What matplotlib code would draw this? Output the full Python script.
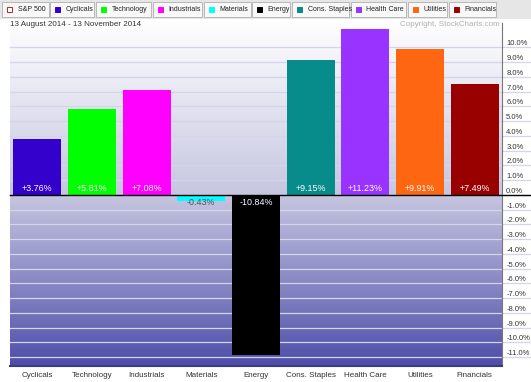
import numpy as np
import matplotlib.pyplot as plt
from matplotlib.colors import LinearSegmentedColormap
from matplotlib.patches import Rectangle

plt.rcParams['font.family'] = ['Liberation Sans', 'DejaVu Sans']

# data
sectors = ['Cyclicals', 'Technology', 'Industrials', 'Materials', 'Energy',
           'Cons. Staples', 'Health Care', 'Utilities', 'Financials']
changes = [3.76, 5.81, 7.08, -0.43, -10.84, 9.15, 11.23, 9.91, 7.49]
colors = ['#3300cc', '#00ff00', '#ff00ff', '#00ffff', '#000000',
          '#078b8b', '#9933ff', '#ff6611', '#990000']
yticks = list(range(-11, 11))
date_range = '13 August 2014 - 13 November 2014'

# legend box edges in the header (pixels)
legend_edges = [(2, 49), (50, 94), (96, 151), (153, 202), (204, 251),
                (252, 290), (292, 349), (351, 406), (408, 447), (449, 496)]

fig = plt.figure(figsize=(5.31, 3.82), dpi=100)
fig.patch.set_facecolor('white')
ax = fig.add_axes([10 / 531, 1 - 366 / 382, 492 / 531, 343 / 382])

ymin, ymax = -11.6, 11.65
x = np.arange(len(sectors))
ax.set_xlim(-0.5, len(sectors) - 0.5)
ax.set_ylim(ymin, ymax)

# background gradient
zf = (0 - ymin) / (ymax - ymin)
cmap = LinearSegmentedColormap.from_list('bg', [
    (0.0, (78 / 255, 78 / 255, 170 / 255)),
    (zf, (198 / 255, 198 / 255, 224 / 255)),
    (1.0, (254 / 255, 254 / 255, 255 / 255))])
grad = np.linspace(0, 1, 256).reshape(-1, 1)
ax.imshow(grad, cmap=cmap, aspect='auto', origin='lower',
          extent=[0, 1, 0, 1], transform=ax.transAxes, zorder=0)

# grid lines (extend under the right tick labels)
for t in yticks:
    ax.plot([0, 1.06], [t, t], color='#d4d4ea', lw=0.9,
            transform=ax.get_yaxis_transform(), clip_on=False, zorder=1)

ax.bar(x, changes, width=0.88, color=colors, zorder=2)
ax.plot([0, 1.06], [0, 0], color='black', lw=1.0,
        transform=ax.get_yaxis_transform(), clip_on=False, zorder=3)

for xi, v in zip(x, changes):
    if v >= 0:
        ax.text(xi, 0.12, f'+{v:.2f}%', ha='center', va='bottom',
                color='white', fontsize=6.4, zorder=4)
    else:
        c = 'white' if abs(v) > 1 else '#505068'
        ax.text(xi, -0.2, f'{v:.2f}%', ha='center', va='top',
                color=c, fontsize=6.4, zorder=4)

ax.yaxis.tick_right()
ax.set_yticks(yticks)
ax.set_yticklabels([f'{t:.1f}%' for t in yticks])
for lab in ax.get_yticklabels():
    lab.set_va('bottom')
ax.tick_params(axis='y', length=0, pad=3, labelsize=5.5, labelcolor='#333333')
ax.set_xticks(x)
ax.set_xticklabels(sectors)
ax.tick_params(axis='x', length=0, pad=4, labelsize=5.8, labelcolor='#333333')

for side in ['top', 'left']:
    ax.spines[side].set_visible(False)
ax.spines['right'].set_color('#777777')
ax.spines['bottom'].set_color('#3a3a80')
ax.spines['bottom'].set_linewidth(1.5)

# header strip with legend boxes
fig.patches.append(Rectangle((0, 1 - 19 / 382), 1, 19 / 382, transform=fig.transFigure,
                             facecolor='#e6e6e6', edgecolor='none', zorder=0))
labels = ['S&P 500'] + sectors
lcolors = ['white'] + colors
for lab, c, (x0, x1) in zip(labels, lcolors, legend_edges):
    fig.patches.append(Rectangle((x0 / 531, 1 - 17 / 382), (x1 - x0) / 531, 15 / 382,
                                 transform=fig.transFigure, facecolor='#f8f8f8',
                                 edgecolor='#b8b8b8', lw=0.7))
    ec = '#cc2222' if lab == 'S&P 500' else c
    fig.patches.append(Rectangle(((x0 + 5) / 531, 1 - 12 / 382), 5 / 531, 5 / 382,
                                 transform=fig.transFigure, facecolor=c,
                                 edgecolor=ec, lw=0.7))
    fig.text((x0 + 15.5) / 531, 1 - 9.5 / 382, lab, fontsize=5, color='#222222',
             va='center', ha='left')

fig.text(10 / 531, 1 - 24.5 / 382, date_range, fontsize=5.8, color='#333333', va='center')
fig.text(500 / 531, 1 - 25 / 382, 'Copyright, StockCharts.com', fontsize=5.8,
         color='#b0b0b0', va='center', ha='right')

fig.savefig('out.png', dpi=100)
